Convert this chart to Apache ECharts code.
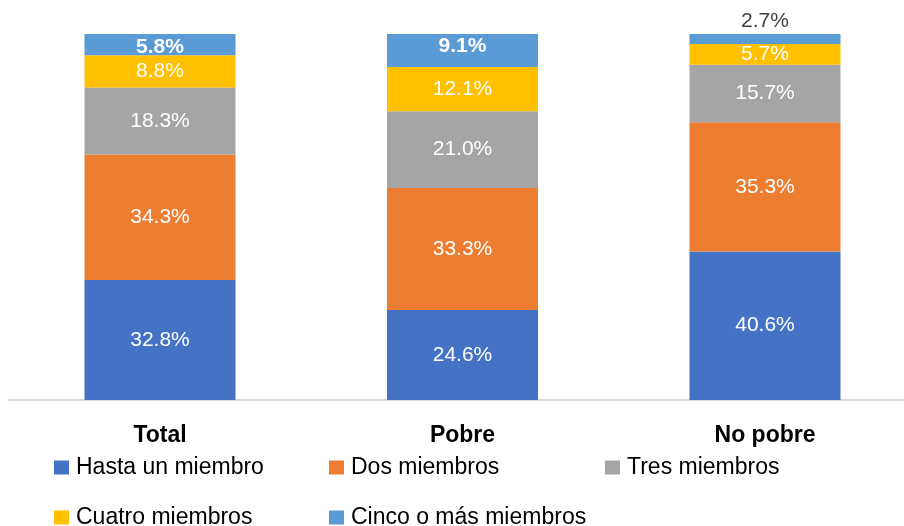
<!DOCTYPE html>
<html>
<head>
<meta charset="utf-8">
<script src="https://cdn.jsdelivr.net/npm/echarts@6/dist/echarts.min.js"></script>
<style>
  html, body { margin: 0; padding: 0; background: #fff; }
  #grafico { width: 904px; height: 526px; }
</style>
</head>
<body>
<div id="grafico"></div>
<script>
  // Datos del gráfico
  const categorias = ["Total", "Pobre", "No pobre"];
  const nombresSeries = ["Hasta un miembro", "Dos miembros", "Tres miembros", "Cuatro miembros", "Cinco o más miembros"];
  const hastaUno = [32.8, 24.6, 40.6];
  const dosMiembros = [34.3, 33.3, 35.3];
  const tresMiembros = [18.3, 21.0, 15.7];
  const cuatroMiembros = [8.8, 12.1, 5.7];
  const cincoOMas = [5.8, 9.1, 2.7];

  const colores = ["#4472C4", "#ED7D31", "#A5A5A5", "#FFC000", "#5B9BD5"];
  const valores = [hastaUno, dosMiembros, tresMiembros, cuatroMiembros, cincoOMas];

  const fuente = "'Liberation Sans', Arial, sans-serif";

  const series = valores.map((vals, i) => ({
    name: nombresSeries[i],
    type: "bar",
    stack: "total",
    barWidth: 151,
    itemStyle: { color: colores[i] },
    label: {
      show: true,
      position: "inside",
      color: "#fff",
      fontFamily: fuente,
      fontSize: 21,
      formatter: (p) => p.value.toFixed(1) + "%",
    },
    data: vals.map((v, j) => {
      // la última serie tiene etiquetas especiales
      if (i === 4 && j === 0) {
        return { value: v, label: { fontWeight: "bold", offset: [0, 3] } };
      }
      if (i === 4 && j === 1) {
        return { value: v, label: { fontWeight: "bold", offset: [0, -4] } };
      }
      if (i === 4 && j === 2) {
        return { value: v, label: { position: "top", color: "#404040", distance: 2 } };
      }
      return v;
    }),
  }));

  // leyendas separadas para alinearlas en columnas
  const posLeyenda = [
    [54, 456], [329, 456], [605, 456],
    [54, 506], [329, 506],
  ];
  const leyendas = nombresSeries.map((n, i) => ({
    data: [n],
    left: posLeyenda[i][0],
    top: posLeyenda[i][1],
    itemWidth: 15,
    itemHeight: 14,
    selectedMode: false,
    icon: "rect",
    padding: 0,
    textStyle: { fontFamily: fuente, fontSize: 23, lineHeight: 23, color: "#000", padding: [0, 0, 0, 2] },
  }));

  const myChart = echarts.init(document.getElementById("grafico"));
  const option = {
    animation: false,
    grid: {
      left: 8.75, width: 907.5, top: 34, bottom: 126,
      containLabel: false, outerBoundsMode: "none",
    },
    legend: leyendas,
    xAxis: {
      type: "category",
      data: categorias,
      axisLine: { lineStyle: { color: "#D9D9D9", width: 2 } },
      axisTick: { show: false },
      axisLabel: {
        margin: 24,
        color: "#000",
        fontFamily: fuente,
        fontWeight: "bold",
        fontSize: 23,
      },
    },
    yAxis: {
      type: "value",
      min: 0,
      max: 100,
      show: false,
    },
    series: series,
  };
  myChart.setOption(option);
</script>
</body>
</html>
